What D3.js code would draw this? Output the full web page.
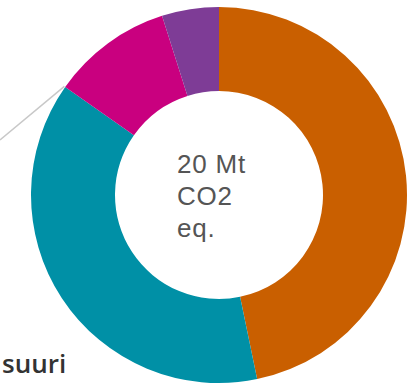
<!DOCTYPE html>
<html>
<head>
<meta charset="utf-8">
<script src="https://cdn.jsdelivr.net/npm/d3@7"></script>
<style>
  html, body { margin: 0; padding: 0; background: #fff; }
  svg { display: block; }
</style>
</head>
<body>
<svg id="chart" width="418" height="385"></svg>
<script>
// Emission shares by size class (Mt CO2 eq.)
const categories = ["luokka 1", "suuri", "luokka 3", "luokka 4"];
const values = [9.35, 7.6, 2.07, 0.98];
const colors = ["#c95f00", "#0090a6", "#c9007f", "#7e3c96"];
const centerLines = ["20 Mt", "CO2", "eq."];
const sideLabel = "suuri";

const width = 418, height = 385;
const cx = 219, cy = 195;
const outerR = 188, innerR = 104;

const svg = d3.select("#chart");

const pie = d3.pie().sort(null).value(d => d.value);
const arcs = pie(categories.map((c, i) => ({ name: c, value: values[i], color: colors[i] })));
const arc = d3.arc().innerRadius(innerR).outerRadius(outerR);

const g = svg.append("g").attr("transform", `translate(${cx},${cy})`);

g.selectAll("path.slice")
  .data(arcs)
  .join("path")
  .attr("class", "slice")
  .attr("d", arc)
  .attr("fill", d => d.data.color);

// Leader line to the slice edge
const tealArc = arcs[1];
const ang = tealArc.endAngle;
const ex = cx + (outerR + 1) * Math.sin(ang);
const ey = cy - (outerR + 1) * Math.cos(ang);
svg.append("line")
  .attr("x1", 0).attr("y1", 140)
  .attr("x2", ex).attr("y2", ey)
  .attr("stroke", "#c8c8c8")
  .attr("stroke-width", 1.5);

// Total in the centre
const total = d3.sum(values);
const ct = svg.append("text")
  .attr("x", 177)
  .attr("y", 173)
  .attr("fill", "#555")
  .attr("font-family", "'Liberation Sans', Arial, sans-serif")
  .attr("font-size", 26)
  .attr("letter-spacing", 0.8);
ct.selectAll("tspan")
  .data(centerLines.map((t, i) => i === 0 ? `${d3.format("d")(total)} Mt` : t))
  .join("tspan")
  .attr("x", 177)
  .attr("dy", (d, i) => i === 0 ? 0 : 32)
  .text(d => d);

// Category label
svg.append("text")
  .attr("x", 2)
  .attr("y", 373)
  .attr("fill", "#333")
  .attr("font-family", "'Open Sans', sans-serif")
  .attr("font-weight", 600)
  .attr("font-size", 26)
  .text(sideLabel);
</script>
</body>
</html>
